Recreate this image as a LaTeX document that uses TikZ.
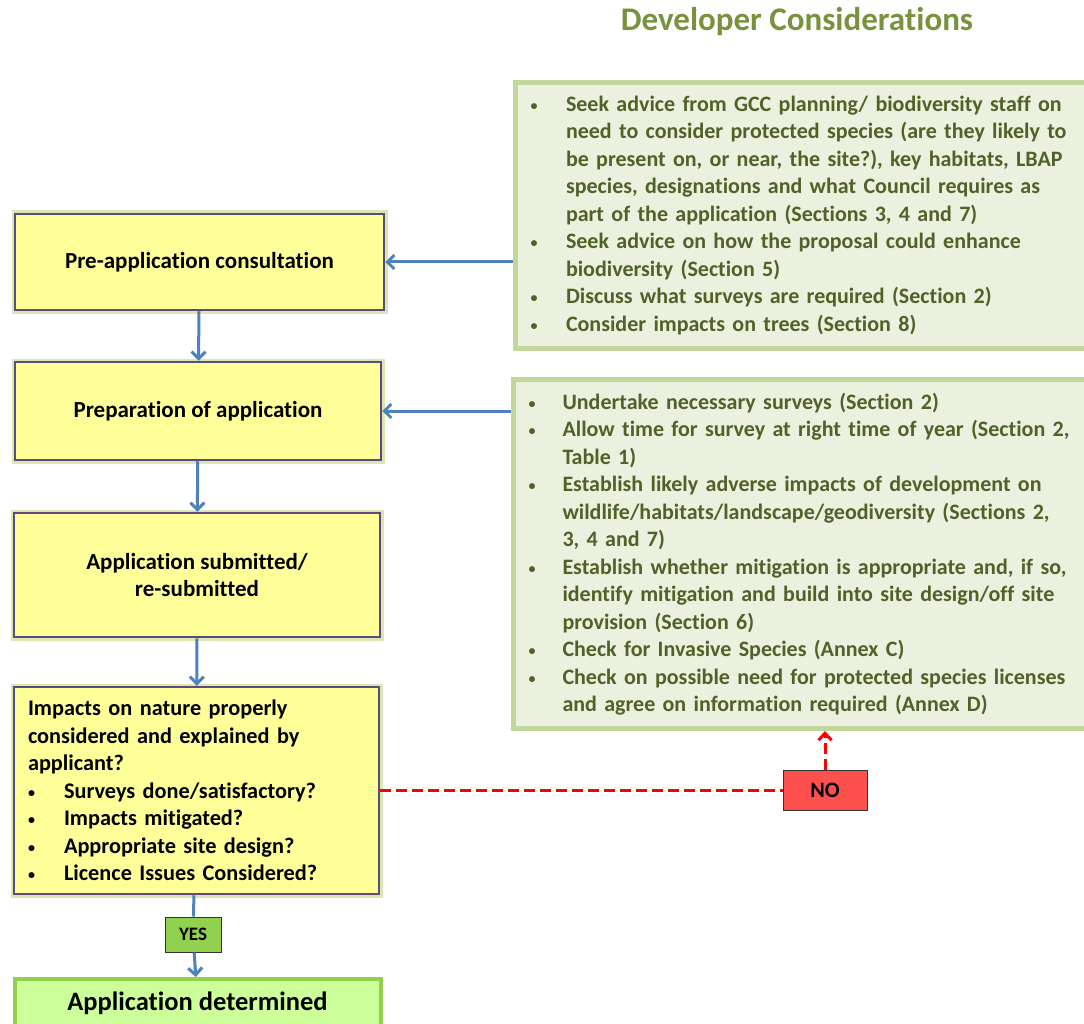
\documentclass[tikz,border=0pt]{standalone}
\usepackage{fontspec}
\setmainfont{Carlito}[Ligatures=NoCommon]
\usepackage{xcolor}
\usepackage{tikz}
\usetikzlibrary{arrows.meta,positioning}
\definecolor{ink}{HTML}{77933C}
\definecolor{leaf}{HTML}{4F6228}
\definecolor{sage}{HTML}{EBF1DE}
\definecolor{sagerule}{HTML}{C3D69B}
\definecolor{lemon}{HTML}{FFFF99}
\definecolor{plum}{HTML}{604A7B}
\definecolor{glow}{HTML}{D7E8B5}
\definecolor{flow}{HTML}{4F81BD}
\definecolor{yesgreen}{HTML}{92D050}
\definecolor{nored}{HTML}{FF5050}
\definecolor{mint}{HTML}{CCFF99}
\newcommand{\bul}[1]{\makebox[#1][l]{\raisebox{1pt}{\fontsize{14}{14}\selectfont\textbullet}}}

\begin{document}
\begin{tikzpicture}[x=1pt,y=-1pt,font=\fontsize{22}{27.5}\selectfont\bfseries,
  stage/.style={draw=plum,line width=2.5pt,fill=lemon,align=center,
    font=\fontsize{23}{27.5}\selectfont\bfseries,
    preaction={draw=glow,line width=7pt}},
  advice/.style={draw=sagerule,line width=5pt,fill=sage,text=leaf,align=left,
    inner xsep=15pt,text width=547pt,anchor=north west},
  tag/.style={draw=black!80,line width=1pt},
  link/.style={draw=flow,line width=3pt},
  arr/.style={link,-{Straight Barb[length=7pt,width=14pt]}},
  nolink/.style={draw=red,line width=3pt,dash pattern=on 11pt off 5pt}]
\clip (0,0) rectangle (1084,1024);
\fill[white] (0,0) rectangle (1084,1024);
\node[text=ink,font=\fontsize{33}{38}\selectfont\bfseries] (title) at (797,22) {Developer Considerations};
\node[stage,minimum width=369pt,minimum height=96pt] (pre) at (199.5,262) {Pre-application consultation};
\node[stage,minimum width=366pt,minimum height=98pt] (prep) at (198,411) {Preparation of application};
\node[stage,minimum width=366pt,minimum height=124pt] (sub) at (197,575) {Application submitted/\\re-submitted};
\node[stage,minimum width=365pt,minimum height=207pt,align=left,text width=337pt,
  font=\fontsize{22.3}{27.5}\selectfont\bfseries] (imp) at (196.5,790.5) {Impacts on nature properly\\considered and explained by\\applicant?\\
  \bul{36pt}Surveys done/satisfactory?\\\bul{36pt}Impacts mitigated?\\\bul{36pt}Appropriate site design?\\\bul{36pt}Licence Issues Considered?};
\node[draw=yesgreen,line width=4pt,fill=mint,minimum width=366pt,minimum height=48pt,
  font=\fontsize{26.5}{30}\selectfont\bfseries] (det) at (197.5,1003) {Application determined};
\node[tag,fill=yesgreen,minimum width=56pt,minimum height=35pt,font=\fontsize{19}{20}\selectfont\bfseries] (yes) at (193,934.5) {YES};
\node[tag,fill=nored,minimum width=84pt,minimum height=40pt,font=\fontsize{22}{24}\selectfont\bfseries] (no) at (825,790) {NO};
\node[advice,minimum height=266pt] (consult) at (513,80) {%
  \bul{35.5pt}Seek advice from GCC planning/ biodiversity staff on\\
  \hspace*{35.5pt}need to consider protected species (are they likely to\\
  \hspace*{35.5pt}be present on, or near, the site?), key habitats, LBAP\\
  \hspace*{35.5pt}species, designations and what Council requires as\\
  \hspace*{35.5pt}part of the application (Sections 3, 4 and 7)\\
  \bul{35.5pt}Seek advice on how the proposal could enhance\\
  \hspace*{35.5pt}biodiversity (Section 5)\\
  \bul{35.5pt}Discuss what surveys are required (Section 2)\\
  \bul{35.5pt}Consider impacts on trees (Section 8)};
\node[advice,minimum height=349pt] (prepare) at (511,377) {%
  \bul{34pt}Undertake necessary surveys (Section 2)\\
  \bul{34pt}Allow time for survey at right time of year (Section 2,\\
  \hspace*{34pt}Table 1)\\
  \bul{34pt}Establish likely adverse impacts of development on\\
  \hspace*{34pt}wildlife/habitats/landscape/geodiversity (Sections 2,\\
  \hspace*{34pt}3, 4 and 7)\\
  \bul{34pt}Establish whether mitigation is appropriate and, if so,\\
  \hspace*{34pt}identify mitigation and build into site design/off site\\
  \hspace*{34pt}provision (Section 6)\\
  \bul{34pt}Check for Invasive Species (Annex C)\\
  \bul{34pt}Check on possible need for protected species licenses\\
  \hspace*{34pt}and agree on information required (Annex D)};
% flow down the left
\draw[arr] (pre) -- (prep);
\draw[arr] (prep) -- (sub);
\draw[arr] (sub) -- (imp);
\draw[link] (imp) -- (yes);
\draw[arr] (yes) -- (det);
% advice feeds
\draw[arr] (pre.east -| consult.west) -- (pre.east);
\draw[arr] (prep.east -| prepare.west) -- (prep.east);
% back loop
\draw[nolink] (imp.east |- no.west) -- (no.west);
\draw[nolink,-{Straight Barb[length=7pt,width=13pt]}] (no.north) -- (no.north |- prepare.south);
\end{tikzpicture}
\end{document}
